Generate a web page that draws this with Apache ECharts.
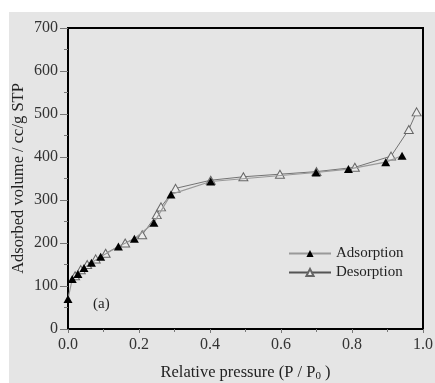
<!DOCTYPE html>
<html>
<head>
<meta charset="utf-8">
<script src="https://cdn.jsdelivr.net/npm/echarts@6/dist/echarts.min.js"></script>
<style>
  html, body { margin: 0; padding: 0; background: #fff; }
  #main { width: 435px; height: 383px; }
</style>
</head>
<body>
<div id="main"></div>
<script>
// 吸附数据 (P/P0, 吸附量)
const adsX = [0.0, 0.012, 0.028, 0.045, 0.066, 0.092, 0.142, 0.187, 0.242, 0.290, 0.402, 0.699, 0.790, 0.895, 0.941];
const adsY = [70, 116, 128, 142, 154, 168, 192, 210, 247, 313, 343, 364, 372, 388, 403];
// 脱附数据
const desX = [0.982, 0.960, 0.910, 0.808, 0.700, 0.597, 0.494, 0.402, 0.303, 0.262, 0.250, 0.209, 0.161, 0.106, 0.078, 0.054, 0.036, 0.020];
const desY = [505, 464, 402, 376, 366, 360, 354, 346, 327, 284, 266, 219, 200, 176, 163, 150, 138, 124];
const xTicks = [0.0, 0.2, 0.4, 0.6, 0.8, 1.0];
const yTicks = [0, 100, 200, 300, 400, 500, 600, 700];

const serif = '"Liberation Serif", "DejaVu Serif", serif';
const bg = '#e5e5e5';

function zip(xs, ys) {
  return xs.map((x, i) => [x, ys[i]]);
}

const chart = echarts.init(document.getElementById('main'));
const option = {
  backgroundColor: bg,
  animation: false,
  textStyle: { fontFamily: serif },
  graphic: [
    // 顶部和左侧白边
    { type: 'rect', left: 0, top: 0, shape: { width: 435, height: 12 }, style: { fill: '#fff' }, z: -1 },
    { type: 'rect', left: 0, top: 0, shape: { width: 9, height: 383 }, style: { fill: '#fff' }, z: -1 },
    { type: 'text', left: 93, top: 297, style: { text: '(a)', font: '15px ' + serif, fill: '#222' } }
  ],
  grid: {
    left: 68, right: 12, top: 28, bottom: 54,
    outerBoundsMode: 'none', containLabel: false,
    show: true, borderColor: '#000', borderWidth: 2, backgroundColor: bg
  },
  legend: {
    left: 288, top: 246, orient: 'vertical', padding: 0,
    itemWidth: 42, itemHeight: 9, itemGap: 4,
    textStyle: { fontFamily: serif, fontSize: 15, color: '#222' },
    data: ['Adsorption', 'Desorption']
  },
  xAxis: {
    type: 'value', min: 0, max: 1, interval: 0.2,
    name: 'Relative pressure (P / P{sub|0} )',
    nameLocation: 'middle', nameGap: 34, nameMoveOverlap: false,
    nameTextStyle: {
      fontFamily: serif, fontSize: 16.5, color: '#222',
      rich: { sub: { fontFamily: serif, fontSize: 11, color: '#222', padding: [8, 0, 0, 0] } }
    },
    axisLine: { lineStyle: { color: '#000', width: 2 } },
    axisTick: { length: 4, lineStyle: { color: '#777' } },
    minorTick: { show: true, splitNumber: 2, length: 3, lineStyle: { color: '#777' } },
    axisLabel: { fontFamily: serif, fontSize: 16, color: '#333', margin: 8, formatter: v => v.toFixed(1) },
    splitLine: { show: false }
  },
  yAxis: {
    type: 'value', min: 0, max: 700, interval: 100,
    name: 'Adsorbed volume / cc/g STP',
    nameLocation: 'middle', nameGap: 41, nameMoveOverlap: false,
    nameTextStyle: { fontFamily: serif, fontSize: 16.5, color: '#222' },
    axisLine: { lineStyle: { color: '#000', width: 2 } },
    axisTick: { length: 8, lineStyle: { color: '#777' } },
    minorTick: { show: true, splitNumber: 2, length: 4, lineStyle: { color: '#777' } },
    axisLabel: { fontFamily: serif, fontSize: 16, color: '#333', margin: 10 },
    splitLine: { show: false }
  },
  series: [
    {
      name: 'Adsorption', type: 'line',
      data: zip(adsX, adsY),
      symbol: 'triangle', symbolSize: [9, 8],
      itemStyle: { color: '#000' },
      lineStyle: { color: '#999', width: 1.2 },
      z: 3
    },
    {
      name: 'Desorption', type: 'line',
      data: zip(desX, desY),
      symbol: 'triangle', symbolSize: [9, 8],
      itemStyle: { color: '#ececec', borderColor: '#666', borderWidth: 1 },
      lineStyle: { color: '#555', width: 0.8 },
      z: 2
    }
  ]
};
chart.setOption(option);
</script>
</body>
</html>
